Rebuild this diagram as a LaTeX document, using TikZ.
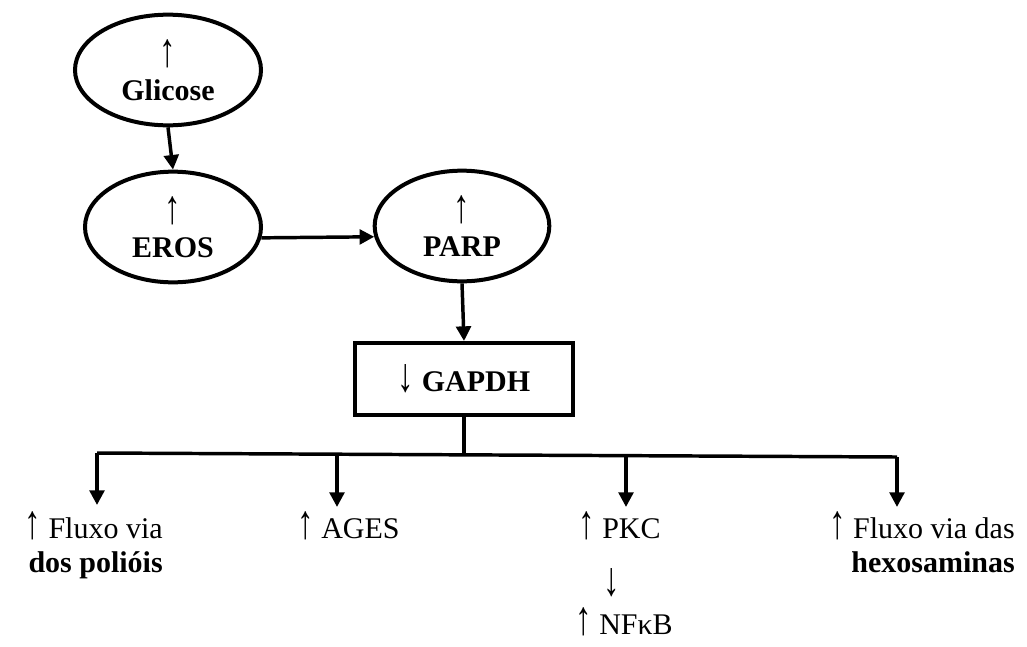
\documentclass[tikz,border=0pt]{standalone}
\usepackage{fontspec}
\setmainfont{Liberation Serif}
\usetikzlibrary{arrows.meta,shapes.geometric}
\newcommand{\sobe}{\scalebox{1.1}[1.6]{↑}}
\newcommand{\desce}{\scalebox{1.1}[1.6]{↓}}
\tikzset{
  elipse/.style={draw, ellipse, line width=3pt, inner sep=0pt, align=center},
  caixa/.style={draw, rectangle, line width=3pt, inner sep=0pt,
    minimum width=163.5pt, minimum height=54pt},
  seta/.style={line width=2.6pt, -{Triangle[width=11pt,length=11pt]}},
  linha/.style={line width=2.6pt},
  rotulo/.style={inner sep=0pt},
}
\begin{document}
\begin{tikzpicture}[x=0.75pt, y=-0.75pt, font=\fontsize{22.5pt}{25.5pt}\selectfont]
	\useasboundingbox (0,0) rectangle (1027,646);
	%Elipses
	\node[elipse, minimum width=139.5pt, minimum height=83pt] (glicose) at (168,70) {\sobe\\\textbf{Glicose}};
	\node[elipse, minimum width=132pt, minimum height=83pt] (eros) at (173,227) {\sobe\\\textbf{EROS}};
	\node[elipse, minimum width=131pt, minimum height=83pt] (parp) at (462,226) {\sobe\\\textbf{PARP}};
	%Caixa
	\node[caixa] (gapdh) at (464,379) {\desce{} \textbf{GAPDH}};
	\draw[seta] (glicose.south) -- (eros.north);
	\draw[seta] (eros.-7) -- (parp.187);
	\draw[seta] (parp.south) -- (gapdh.north);
	%Ramos
	\coordinate (b1) at (97,453);
	\coordinate (b2) at (337,454);
	\coordinate (j) at (464,455);
	\coordinate (b3) at (626,456);
	\coordinate (b4) at (897,457);
	\coordinate (t1) at (97,505);
	\coordinate (t2) at (337,507);
	\coordinate (t3) at (626,507);
	\coordinate (t4) at (897,507);
	\draw[linha] (gapdh.south) -- (j);
	\draw[linha] (b1) -- (b4);
	\draw[seta] (b1) -- (t1);
	\draw[seta] (b2) -- (t2);
	\draw[seta] (b3) -- (t3);
	\draw[seta] (b4) -- (t4);
	%Textos
	\node[rotulo, anchor=north east, align=right] (poliois) at (163,511) {\sobe{} Fluxo via\\\textbf{dos polióis}};
	\node[rotulo, anchor=north west] (ages) at (297,511) {\sobe{} AGES};
	\node[rotulo, anchor=north west] (pkc) at (578,511) {\sobe{} PKC};
	\node[rotulo, anchor=north] (baixo) at (612,568) {\desce};
	\node[rotulo, anchor=north west] (nfkb) at (575,607) {\sobe{} NFκB};
	\node[rotulo, anchor=north east, align=right] (hexo) at (1015,511) {\sobe{} Fluxo via das\\\textbf{hexosaminas}};
\end{tikzpicture}
\end{document}
